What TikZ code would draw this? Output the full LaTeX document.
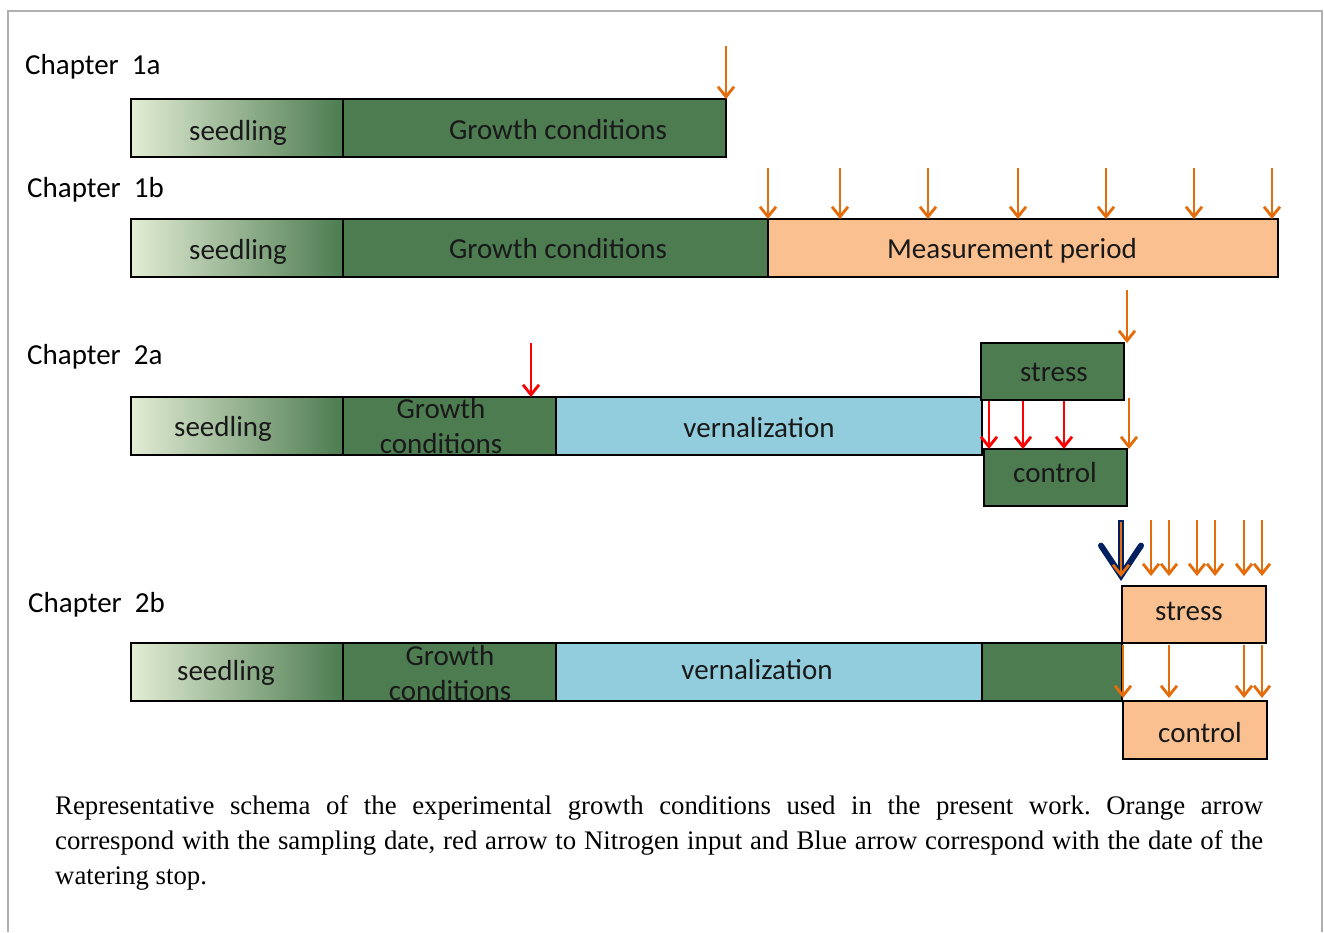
\documentclass[tikz,border=0pt]{standalone}
\usepackage{fontspec}
\setmainfont{Carlito}
\newfontfamily\capfont{Liberation Serif}
\usetikzlibrary{arrows.meta,calc}
\definecolor{dgreen}{RGB}{77,124,81}
\definecolor{sLeft}{RGB}{226,236,212}
\definecolor{sMid}{RGB}{158,189,108}
\definecolor{sRight}{RGB}{76,124,80}
\definecolor{lblue}{RGB}{146,205,221}
\definecolor{peach}{RGB}{250,192,144}
\definecolor{oarrc}{RGB}{228,108,10}
\definecolor{navy}{RGB}{0,32,96}
\definecolor{txt}{RGB}{25,25,25}
\definecolor{frame}{RGB}{176,176,176}
\tikzset{
  bar/.style={draw=black, line width=1.8pt, rectangle, inner sep=0pt, outer sep=0pt, anchor=north west},
  seedbox/.style={bar, left color=sLeft, middle color=sMid, right color=sRight},
  greenbox/.style={bar, fill=dgreen},
  bluebox/.style={bar, fill=lblue},
  peachbox/.style={bar, fill=peach},
  lbl/.style={font=\fontsize{29}{35}\selectfont, text=txt, anchor=base, inner sep=0pt},
  chap/.style={font=\fontsize{29}{35}\selectfont, text=black, anchor=base west, inner sep=0pt},
  oarr/.style={draw=oarrc, line width=2.8pt, -{Straight Barb[length=10pt,width=16pt]}},
  rarr/.style={draw=red, line width=2.8pt, -{Straight Barb[length=10pt,width=16pt]}},
  barr/.style={draw=navy, line width=6pt, -{Straight Barb[length=30pt,width=40pt,line cap=round]}},
}
\begin{document}
\begin{tikzpicture}[x=1pt,y=-1pt]
\useasboundingbox (0,0) rectangle (1324,932);
\fill[white] (0,0) rectangle (1324,932);
% frame
\draw[frame, line width=2pt] (8,932) -- (8,11) -- (1322,11) -- (1322,932);

% ---------- Chapter 1a ----------
\node[chap] (c1a) at (25,74) {Chapter\ \ 1a};
\node[seedbox, minimum width=212pt, minimum height=58pt] (s1a) at (131,99) {};
\node[greenbox, minimum width=383pt, minimum height=58pt] (g1a) at (343,99) {};
\node[lbl] (s1at) at (238,140) {seedling};
\node[lbl] (g1at) at (558,139) {Growth conditions};
\coordinate (a1a) at (726,46);
\draw[oarr] (a1a) -- (a1a |- g1a.north);

% ---------- Chapter 1b ----------
\node[chap] (c1b) at (27,197) {Chapter\ \ 1b};
\node[seedbox, minimum width=212pt, minimum height=58pt] (s1b) at (131,219) {};
\node[greenbox, minimum width=425pt, minimum height=58pt] (g1b) at (343,219) {};
\node[peachbox, minimum width=510pt, minimum height=58pt] (m1b) at (768,219) {};
\node[lbl] (s1bt) at (238,259) {seedling};
\node[lbl] (g1bt) at (558,258) {Growth conditions};
\node[lbl] (m1bt) at (1012,258) {Measurement period};
\foreach \i/\x in {1/768,2/840,3/928,4/1018,5/1106,6/1194,7/1272}{
  \coordinate (t1b\i) at (\x,168);
  \draw[oarr] (t1b\i) -- (t1b\i |- m1b.north);
}

% ---------- Chapter 2a ----------
\node[chap] (c2a) at (27,364) {Chapter\ \ 2a};
\node[seedbox, minimum width=212pt, minimum height=58pt] (s2a) at (131,397) {};
\node[greenbox, minimum width=213pt, minimum height=58pt] (g2a) at (343,397) {};
\node[bluebox, minimum width=426pt, minimum height=58pt] (v2a) at (556,397) {};
\node[greenbox, minimum width=143pt, minimum height=57pt] (st2a) at (981,343) {};
\node[greenbox, minimum width=143pt, minimum height=57pt] (ct2a) at (984,449) {};
\node[lbl] (s2at) at (223,436) {seedling};
\begin{scope}
  \clip (g2a.north west) rectangle (g2a.south east);
  \node[lbl] (g2at1) at (441,418) {Growth};
  \node[lbl] (g2at2) at (441,453) {conditions};
\end{scope}
\node[lbl] (v2at) at (759,437) {vernalization};
\node[lbl] (st2at) at (1054,381) {stress};
\node[lbl] (ct2at) at (1055,482) {control};
\coordinate (r2a) at (531,343);
\draw[rarr] (r2a) -- (r2a |- g2a.north);
\foreach \i/\x in {1/989,2/1023,3/1064}{
  \coordinate (r2a\i) at (\x,401);
  \draw[rarr] (r2a\i) -- (r2a\i |- ct2a.north);
}
\coordinate (o2a) at (1127,290);
\draw[oarr] (o2a) -- (o2a |- st2a.north);
\coordinate (o2b) at (1129,398);
\draw[oarr] (o2b) -- (o2b |- ct2a.north);

% ---------- Chapter 2b ----------
\node[chap] (c2b) at (28,612) {Chapter\ \ 2b};
\node[seedbox, minimum width=212pt, minimum height=58pt] (s2b) at (131,643) {};
\node[greenbox, minimum width=213pt, minimum height=58pt] (g2b) at (343,643) {};
\node[bluebox, minimum width=426pt, minimum height=58pt] (v2b) at (556,643) {};
\node[greenbox, minimum width=140pt, minimum height=58pt] (d2b) at (982,643) {};
\node[peachbox, minimum width=144pt, minimum height=57pt] (st2b) at (1122,586) {};
\node[peachbox, minimum width=144pt, minimum height=58pt] (ct2b) at (1123,701) {};
\node[lbl] (s2bt) at (226,680) {seedling};
\begin{scope}
  \clip (g2b.north west) rectangle (g2b.south east);
  \node[lbl] (g2bt1) at (450,665) {Growth};
  \node[lbl] (g2bt2) at (450,700) {conditions};
\end{scope}
\node[lbl] (v2bt) at (757,679) {vernalization};
\node[lbl] (st2bt) at (1189,620) {stress};
\node[lbl] (ct2bt) at (1200,742) {control};
% blue arrow (watering stop) with orange sampling arrow inside
\coordinate (b2b) at (1121,520);
\draw[barr] (b2b) -- ($(b2b |- st2b.north)+(0,-5)$);
\draw[oarr] ($(b2b)+(0,2)$) -- ($(b2b |- st2b.north)+(0,-9)$);
\foreach \i/\x in {1/1151,2/1169,3/1197,4/1215,5/1244,6/1262}{
  \coordinate (ot2b\i) at (\x,520);
  \coordinate (oe2b\i) at (\x,576);
  \draw[oarr] (ot2b\i) -- (oe2b\i);
}
\foreach \i/\x in {1/1123,2/1169,3/1244,4/1262}{
  \coordinate (om2b\i) at (\x,645);
  \draw[oarr] (om2b\i) -- ($(om2b\i |- ct2b.north)+(0,-3)$);
}

% ---------- caption ----------
\node[anchor=north west, inner sep=0pt, font=\capfont\fontsize{26.8}{35}\selectfont] (cap) at (55,795)
{\frenchspacing\parbox[t]{1208pt}{%
\hbox to 1208pt{Representative schema of the experimental growth conditions used in the present work. Orange arrow}
\hbox to 1208pt{correspond with the sampling date, red arrow to Nitrogen input and Blue arrow correspond with the date of the}
\hbox{watering stop.}}};
\end{tikzpicture}
\end{document}
